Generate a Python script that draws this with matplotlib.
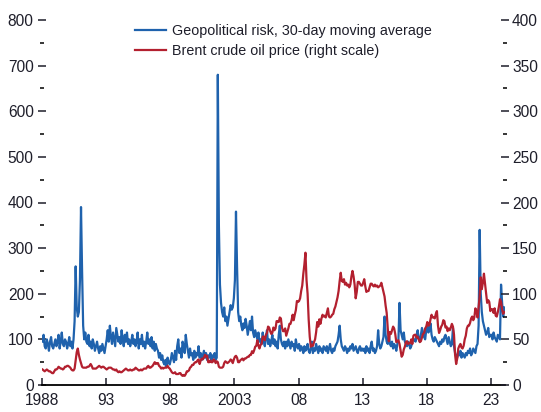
#!/usr/bin/env python3
"""Geopolitical risk index vs Brent crude oil price, 1988-2023."""

import matplotlib.pyplot as plt
import numpy as np
from matplotlib.ticker import MultipleLocator

START_YEAR = 1988

# monthly readings, one row per year (Jan..Dec)
gpr_monthly = [
    95, 110, 85, 80, 100, 90, 75, 95, 105, 85, 80, 90,          # 1988
    100, 85, 95, 110, 80, 95, 115, 90, 85, 100, 95, 80,         # 1989
    90, 105, 85, 95, 80, 100, 140, 260, 170, 150, 160, 230,     # 1990
    390, 250, 130, 100, 115, 95, 90, 110, 85, 95, 80, 100,      # 1991
    90, 75, 85, 95, 80, 70, 85, 75, 90, 80, 70, 85,             # 1992
    100, 120, 95, 130, 105, 90, 115, 100, 85, 125, 110, 95,     # 1993
    105, 90, 120, 100, 85, 110, 95, 115, 90, 100, 85, 95,       # 1994
    110, 90, 100, 85, 95, 115, 80, 100, 90, 110, 85, 95,        # 1995
    80, 95, 115, 90, 100, 85, 105, 80, 95, 75, 90, 80,          # 1996
    75, 60, 70, 55, 65, 50, 45, 55, 40, 60, 50, 45,             # 1997
    55, 70, 60, 50, 75, 55, 85, 100, 70, 80, 60, 95,            # 1998
    85, 70, 110, 90, 75, 60, 80, 65, 70, 55, 75, 60,            # 1999
    70, 65, 85, 60, 70, 55, 65, 75, 60, 70, 55, 65,             # 2000
    60, 70, 55, 65, 60, 70, 55, 60, 680, 350, 220, 180,         # 2001
    160, 150, 170, 140, 150, 130, 145, 160, 175, 165, 170, 190, # 2002
    230, 380, 260, 160, 140, 150, 130, 120, 135, 125, 145, 130, # 2003
    110, 125, 140, 120, 150, 115, 105, 120, 110, 100, 115, 95,  # 2004
    100, 90, 115, 95, 85, 105, 120, 90, 100, 85, 95, 110,       # 2005
    90, 100, 85, 95, 80, 110, 130, 100, 90, 85, 95, 80,         # 2006
    95, 85, 100, 90, 80, 95, 85, 90, 75, 100, 85, 80,           # 2007
    90, 75, 85, 80, 70, 85, 75, 80, 90, 75, 70, 80,             # 2008
    95, 70, 80, 75, 90, 80, 70, 85, 75, 80, 70, 85,             # 2009
    80, 75, 85, 70, 80, 90, 75, 70, 80, 75, 85, 90,             # 2010
    95, 110, 130, 100, 85, 80, 75, 85, 80, 70, 80, 75,          # 2011
    85, 80, 90, 75, 80, 85, 75, 70, 80, 85, 75, 80,             # 2012
    75, 80, 70, 85, 75, 80, 70, 85, 95, 75, 80, 70,             # 2013
    75, 85, 120, 90, 80, 85, 95, 105, 150, 110, 95, 90,         # 2014
    115, 90, 85, 95, 80, 90, 85, 75, 90, 100, 180, 120,         # 2015
    110, 100, 115, 95, 90, 85, 95, 90, 80, 85, 95, 100,         # 2016
    100, 95, 110, 120, 100, 95, 110, 125, 115, 105, 100, 120,   # 2017
    130, 115, 120, 135, 110, 100, 95, 105, 100, 95, 90, 85,     # 2018
    95, 90, 100, 95, 105, 110, 100, 90, 105, 95, 85, 90,        # 2019
    125, 85, 70, 65, 60, 70, 65, 75, 60, 70, 65, 60,            # 2020
    70, 65, 75, 70, 80, 65, 70, 80, 75, 70, 85, 90,             # 2021
    130, 340, 200, 160, 140, 130, 120, 110, 115, 125, 105, 110, # 2022
    110, 100, 115, 105, 100, 95, 110, 105, 100, 220, 180, 150,  # 2023
    170,                                                        # 2024
]

brent_monthly = [
    17, 16, 15, 16, 17, 16, 15, 15, 14, 13, 13, 15,             # 1988
    17, 17, 18, 20, 19, 18, 18, 17, 18, 20, 20, 21,             # 1989
    21, 20, 19, 17, 16, 16, 18, 27, 36, 40, 33, 28,             # 1990
    24, 20, 19, 19, 19, 19, 20, 20, 21, 23, 21, 18,             # 1991
    18, 18, 18, 19, 20, 21, 20, 19, 20, 20, 19, 18,             # 1992
    17, 18, 19, 19, 19, 18, 17, 17, 16, 17, 15, 14,             # 1993
    15, 14, 14, 15, 16, 17, 18, 17, 16, 16, 17, 16,             # 1994
    16, 17, 17, 19, 18, 17, 16, 16, 17, 16, 17, 18,             # 1995
    18, 18, 20, 21, 19, 19, 20, 21, 23, 25, 23, 24,             # 1996
    24, 21, 20, 18, 19, 18, 19, 19, 19, 21, 19, 18,             # 1997
    16, 14, 13, 13, 14, 12, 12, 12, 13, 13, 11, 10,             # 1998
    11, 10, 12, 15, 15, 16, 19, 20, 22, 22, 24, 25,             # 1999
    25, 27, 28, 23, 27, 29, 28, 30, 33, 31, 32, 25,             # 2000
    25, 27, 25, 25, 28, 27, 24, 26, 25, 20, 19, 19,             # 2001
    19, 20, 24, 26, 25, 24, 25, 26, 28, 27, 24, 28,             # 2002
    31, 32, 30, 25, 25, 27, 28, 29, 27, 29, 29, 30,             # 2003
    31, 31, 33, 33, 37, 35, 38, 42, 43, 49, 43, 40,             # 2004
    44, 45, 53, 53, 49, 55, 57, 64, 63, 59, 56, 57,             # 2005
    63, 60, 62, 70, 70, 69, 74, 73, 63, 59, 59, 62,             # 2006
    54, 58, 62, 67, 67, 71, 77, 71, 77, 82, 92, 91,             # 2007
    92, 95, 103, 109, 122, 132, 145, 115, 100, 72, 53, 42,      # 2008
    44, 43, 47, 50, 58, 69, 64, 72, 67, 73, 77, 75,             # 2009
    76, 74, 79, 84, 75, 74, 75, 77, 78, 83, 86, 91,             # 2010
    96, 103, 114, 123, 114, 113, 116, 110, 112, 109, 110, 107,  # 2011
    110, 119, 125, 119, 110, 95, 102, 113, 113, 111, 109, 109,  # 2012
    112, 116, 108, 102, 103, 103, 107, 111, 111, 109, 108, 110, # 2013
    108, 109, 107, 108, 109, 112, 107, 102, 97, 87, 79, 62,     # 2014
    48, 58, 56, 60, 64, 62, 56, 47, 48, 49, 45, 38,             # 2015
    31, 33, 39, 42, 47, 48, 45, 46, 46, 50, 45, 54,             # 2016
    55, 55, 52, 53, 50, 47, 48, 52, 56, 57, 62, 64,             # 2017
    69, 65, 66, 72, 77, 74, 74, 73, 78, 81, 65, 57,             # 2018
    60, 64, 66, 71, 70, 63, 64, 59, 62, 60, 63, 67,             # 2019
    64, 55, 33, 23, 29, 40, 43, 45, 41, 40, 43, 50,             # 2020
    54, 62, 65, 65, 68, 73, 75, 71, 74, 84, 81, 74,             # 2021
    86, 97, 118, 105, 112, 122, 111, 100, 90, 93, 91, 81,       # 2022
    83, 83, 79, 84, 76, 75, 80, 86, 94, 91, 83, 78,             # 2023
    80,                                                         # 2024
]

year_ticks = [1988, 1993, 1998, 2003, 2008, 2013, 2018, 2023]
year_labels = ["1988", "93", "98", "2003", "08", "13", "18", "23"]

BLUE = "#1f62ad"
RED = "#b3202f"
TEXT = "#1e1e2a"


def month_positions(n):
    return START_YEAR + (np.arange(n) + 0.5) / 12.0


def main() -> None:
    plt.rcParams["font.family"] = ["Liberation Sans", "DejaVu Sans"]
    plt.rcParams["font.size"] = 11.2

    fig = plt.figure(figsize=(5.41, 4.12), dpi=100)
    ax = fig.add_axes([42 / 541, 1 - 385 / 412, 463 / 541, 365 / 412])
    ax2 = ax.twinx()

    gpr_line, = ax.plot(month_positions(len(gpr_monthly)), gpr_monthly,
                        color=BLUE, lw=1.6, label="Geopolitical risk, 30-day moving average")
    brent_line, = ax2.plot(month_positions(len(brent_monthly)), brent_monthly,
                           color=RED, lw=1.6, label="Brent crude oil price (right scale)")

    ax.set_xlim(1988, 2024.1)
    ax.set_ylim(0, 800)
    ax2.set_ylim(0, 400)

    ax.set_xticks(year_ticks)
    ax.set_xticklabels(year_labels)
    ax.yaxis.set_major_locator(MultipleLocator(100))
    ax.yaxis.set_minor_locator(MultipleLocator(50))
    ax2.yaxis.set_major_locator(MultipleLocator(50))
    ax2.yaxis.set_minor_locator(MultipleLocator(25))

    for a in (ax, ax2):
        for side in ("top", "left", "right"):
            a.spines[side].set_visible(False)
    ax.spines["bottom"].set_linewidth(1.3)
    ax2.spines["bottom"].set_visible(False)

    ax.tick_params(axis="x", direction="in", length=5, width=1.1, pad=6, colors=TEXT)
    ax.tick_params(axis="y", which="major", direction="inout", length=6, width=1.1, pad=3, colors=TEXT)
    ax.tick_params(axis="y", which="minor", direction="inout", length=3, width=1.1)
    ax2.tick_params(axis="y", which="major", direction="inout", length=6, width=1.1, pad=2, colors=TEXT)
    ax2.tick_params(axis="y", which="minor", direction="inout", length=3, width=1.1)

    ax.legend(handles=[gpr_line, brent_line], loc="upper left",
              bbox_to_anchor=(0.201, 0.99), frameon=False, borderpad=0,
              borderaxespad=0, handlelength=2.17, handletextpad=0.42,
              labelspacing=0.44, fontsize=10.3, labelcolor=TEXT)

    fig.savefig("out.png", dpi=100)
    plt.close(fig)


if __name__ == "__main__":
    main()
